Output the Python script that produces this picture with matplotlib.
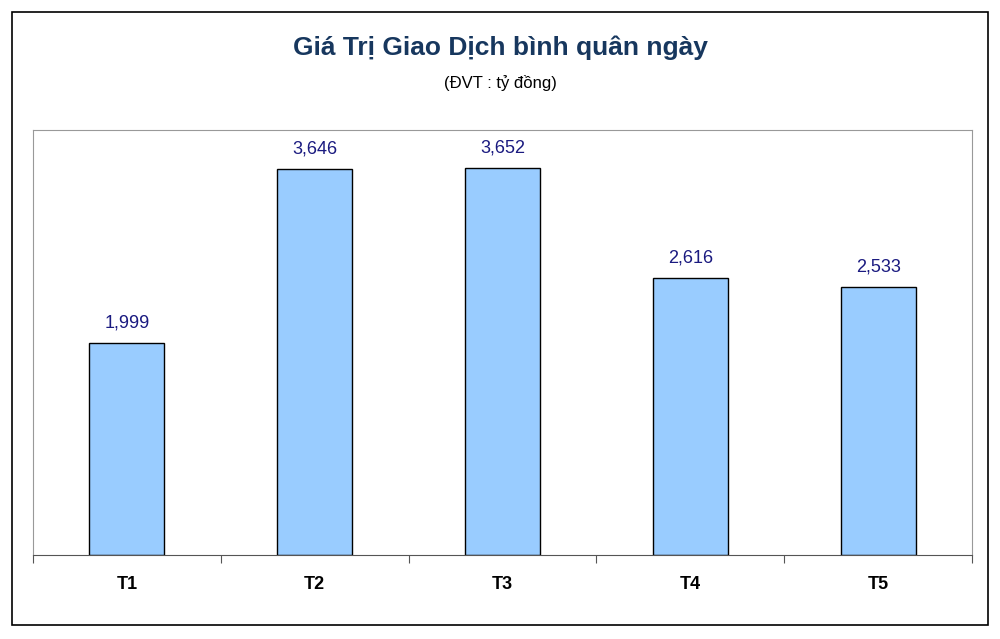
import matplotlib
matplotlib.use("Agg")
import matplotlib.pyplot as plt
from matplotlib.patches import Rectangle

categories = ["T1", "T2", "T3", "T4", "T5"]
values = [1999, 3646, 3652, 2616, 2533]
labels = ["1,999", "3,646", "3,652", "2,616", "2,533"]

plt.rcParams['font.family'] = ['Liberation Sans', 'DejaVu Sans']
fig = plt.figure(figsize=(10, 6.39), dpi=100)
fig.patches.append(Rectangle((12/1000, 1-625/639), 976/1000, 613/639, transform=fig.transFigure,
                             fill=False, edgecolor='black', lw=1.2))
ax = fig.add_axes([33/1000, 1-555/639, 939/1000, 425/639])
x = range(len(categories))
ax.bar(x, values, width=0.4, color='#99CCFF', edgecolor='black', lw=1)
for i, (v, l) in enumerate(zip(values, labels)):
    ax.text(i, v + 110, l, ha='center', va='bottom', fontsize=13, color='#1a1a80')
ax.set_xlim(-0.5, 4.5)
ax.set_ylim(0, 4014)
ax.set_yticks([])
ax.set_xticks([i + 0.5 for i in range(-1, 5)], minor=False)
ax.set_xticklabels([])
ax.tick_params(axis='x', direction='out', length=6, color='#555555')
for i, c in enumerate(categories):
    ax.text(i, -0.07, c, transform=ax.get_xaxis_transform(), ha='center', va='center',
            fontsize=13, fontweight='bold')
for s in ['top', 'right', 'left']:
    ax.spines[s].set_color('#999999')
ax.spines['bottom'].set_color('#555555')
fig.text(0.5, 1-48/639, "Giá Trị Giao Dịch bình quân ngày", ha='center', va='center',
         fontsize=19, fontweight='bold', color='#17375E')
fig.text(0.5, 1-83/639, "(ĐVT : tỷ đồng)", ha='center', va='center', fontsize=12)
fig.savefig("out.png", dpi=100)
